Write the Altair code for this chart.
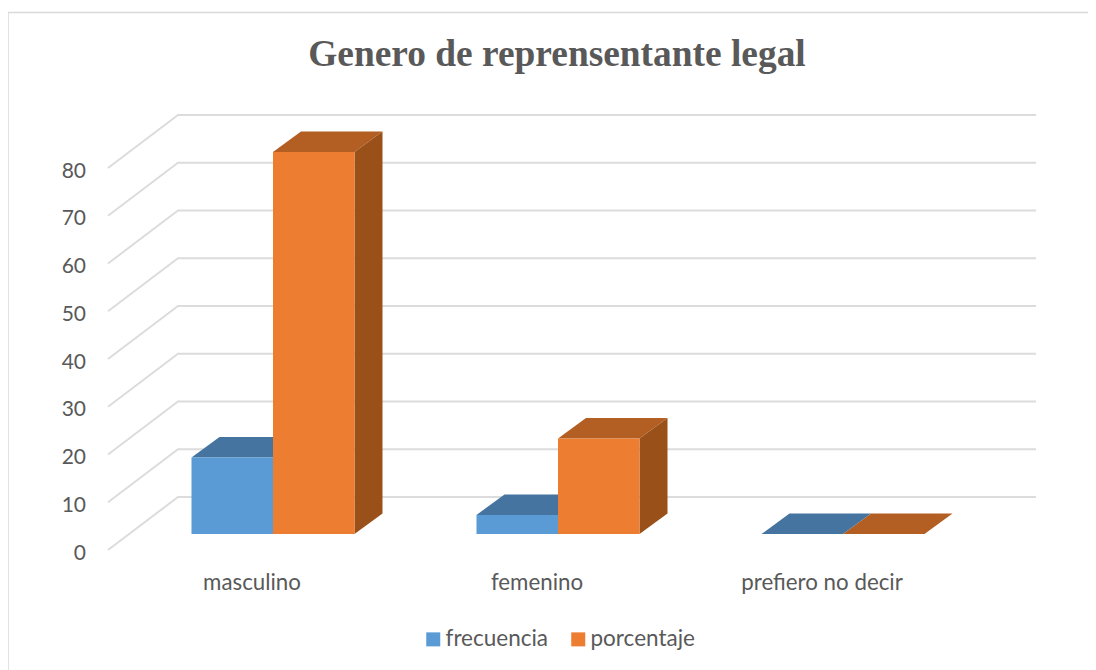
import altair as alt
import pandas as pd

# ---- values ----
categories = ["masculino", "femenino", "prefiero no decir"]
frecuencia = [16, 4, 0]
porcentaje = [80, 20, 0]
y_ticks = [0, 10, 20, 30, 40, 50, 60, 70, 80]
title_text = "Genero de reprensentante legal"

W, H = 1080, 662
PX_CAT = 285.0      # pixels per category step
PX_VAL = 4.775      # pixels per value unit
X0 = 273.0          # page x of first category
Y0 = 534.0          # page y of value 0 at bar front
x_dom = [(8 - X0) / PX_CAT, (8 + W - X0) / PX_CAT]
y_dom = [(Y0 - (8 + H)) / PX_VAL, (Y0 - 8) / PX_VAL]

BAR = 81.5 / PX_CAT
DX = 28 / PX_CAT
DY = 20.5 / PX_VAL

F_X, B_X, R_X = (108 - X0) / PX_CAT, (178 - X0) / PX_CAT, (1036 - X0) / PX_CAT
F_Y, B_Y = (Y0 - 550) / PX_VAL, (Y0 - 497) / PX_VAL

x_s = alt.Scale(domain=x_dom, nice=False, zero=False)
y_s = alt.Scale(domain=y_dom, nice=False, zero=False)
X = lambda f: alt.X(f, type="quantitative", scale=x_s, axis=None)
Y = lambda f: alt.Y(f, type="quantitative", scale=y_s, axis=None)

# grid: floor-to-wall diagonal and back-wall line for each tick
grid = []
for t in y_ticks:
    grid += [
        {"t": t, "i": 0, "x": F_X, "y": t + F_Y},
        {"t": t, "i": 1, "x": B_X, "y": t + B_Y},
        {"t": t, "i": 2, "x": R_X, "y": t + B_Y},
    ]
grid_layer = alt.Chart(pd.DataFrame(grid)).mark_line(color="#DCDCDC", strokeWidth=2).encode(
    x=X("x"), y=Y("y"), detail="t:N", order="i:Q"
)

# chart frame (left and top edges only are visible in the reference)
frame = pd.DataFrame([
    {"p": 0, "x": x_dom[0], "y": y_dom[0]},
    {"p": 1, "x": x_dom[0], "y": (Y0 - 12.5) / PX_VAL},
    {"p": 2, "x": x_dom[1], "y": (Y0 - 12.5) / PX_VAL},
])
frame_layer = alt.Chart(frame).mark_line(color="#D9D9D9", strokeWidth=1.5).encode(
    x=X("x"), y=Y("y"), order="p:Q"
)

tick_df = pd.DataFrame({"t": y_ticks, "label": [str(t) for t in y_ticks]})
tick_df["x"] = (86 - X0) / PX_CAT
tick_df["y"] = tick_df["t"] + F_Y
tick_layer = alt.Chart(tick_df).mark_text(
    align="right", baseline="middle", font="Lato", fontSize=21, color="#595959", dy=3.5
).encode(x=X("x"), y=Y("y"), text="label:N")

cat_df = pd.DataFrame({
    "label": categories,
    "x": [i - 21 / PX_CAT for i in range(len(categories))],
    "y": (Y0 - 582) / PX_VAL,
})
cat_layer = alt.Chart(cat_df).mark_text(
    align="center", baseline="middle", font="Lato", fontSize=22.3, color="#595959", dy=1
).encode(x=X("x"), y=Y("y"), text="label:N")


def bar_layers(name, values, left, top_col, side_col):
    top, side, front = [], [], []
    for i, v in enumerate(values):
        x0 = i + left
        x1 = x0 + BAR
        for px, hi, lo in [(x0, v, v), (x0 + DX, v + DY, v), (x1, v + DY, v), (x1 + DX, v + DY, v + DY)]:
            top.append({"c": i, "x": px, "y": hi, "y2": lo})
        for px, hi, lo in [(x1, v, 0), (x1 + DX, v + DY, DY)]:
            side.append({"c": i, "x": px, "y": hi, "y2": lo})
        front.append({"s": name, "x": x0, "x2": x1, "y": v, "y2": 0})
    enc = dict(x=X("x"), y=Y("y"), y2="y2:Q", detail="c:N")
    return [
        alt.Chart(pd.DataFrame(top)).mark_area(color=top_col, orient="vertical").encode(**enc),
        alt.Chart(pd.DataFrame(side)).mark_area(color=side_col, orient="vertical").encode(**enc),
        alt.Chart(pd.DataFrame(front)).mark_rect().encode(
            x=X("x"), x2="x2:Q", y=Y("y"), y2="y2:Q",
            color=alt.Color(
                "s:N",
                scale=alt.Scale(domain=["frecuencia", "porcentaje"], range=["#5B9BD5", "#ED7D31"]),
                legend=alt.Legend(
                    title=None, orient="none", direction="horizontal",
                    legendX=414, legendY=620,
                    symbolType="square", symbolSize=196, symbolStrokeWidth=0,
                    labelFont="Lato", labelFontSize=22.5, labelColor="#595959",
                    columnPadding=18, labelOffset=1,
                ),
            ),
        ),
    ]


layers = [frame_layer, grid_layer, tick_layer, cat_layer]
layers += bar_layers("frecuencia", frecuencia, -BAR, "#44749F", "#386086")
layers += bar_layers("porcentaje", porcentaje, 0, "#B35E22", "#9A5019")

chart = alt.layer(*layers).properties(
    width=W, height=H,
    padding=0,
    autosize=alt.AutoSizeParams(type="none"),
    title=alt.TitleParams(
        title_text, font="Liberation Serif", fontSize=37.4, fontWeight="bold", color="#595959",
        anchor="middle", dy=95, dx=9, offset=0, baseline="alphabetic",
    ),
).configure_view(stroke=None)

chart.save("out.html", embed_options={"renderer": "svg", "actions": False})
